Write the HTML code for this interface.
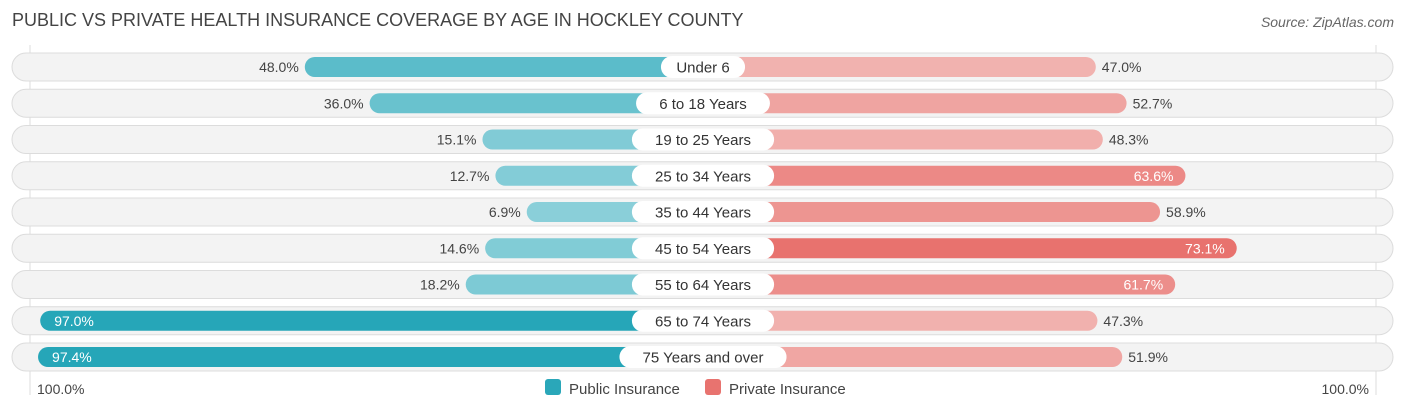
<!DOCTYPE html>
<html><head><meta charset="utf-8"><style>
body{margin:0;background:#fff;font-family:"Liberation Sans",sans-serif;}
#wrap{position:relative;width:1406px;height:413px;overflow:hidden;}
.t{position:absolute;white-space:nowrap;}
</style></head><body>
<div id="wrap">
<div class="t" style="left:12px;top:10px;font-size:18px;color:#444;">PUBLIC VS PRIVATE HEALTH INSURANCE COVERAGE BY AGE IN HOCKLEY COUNTY</div>
<div class="t" style="right:12px;top:14px;font-size:14px;color:#666;font-style:italic;">Source: ZipAtlas.com</div>
<svg id="svg" width="1406" height="413" style="position:absolute;left:0;top:0;"></svg>
</div>
<script>
const categories=["Under 6","6 to 18 Years","19 to 25 Years","25 to 34 Years","35 to 44 Years","45 to 54 Years","55 to 64 Years","65 to 74 Years","75 Years and over"];
const publicVals=[48.0,36.0,15.1,12.7,6.9,14.6,18.2,97.0,97.4];
const privateVals=[47.0,52.7,48.3,63.6,58.9,73.1,61.7,47.3,51.9];
const NS="http://www.w3.org/2000/svg";
const svg=document.getElementById('svg');
const cx=703, scale=5.4, off=139, y0=67, dy=36.25;
function xw(v){return off+scale*v;}
function mk(tag,attrs,parent){const e=document.createElementNS(NS,tag);for(const k in attrs)e.setAttribute(k,attrs[k]);(parent||svg).appendChild(e);return e;}
function mix(a,b,t){return 'rgb('+a.map((c,i)=>Math.round(c+(b[i]-c)*t)).join(',')+')';}
// gridlines
const g1=mk('line',{x1:30,x2:30,y1:45,y2:395,stroke:'#ddd'});


const g2=mk('line',{x1:1376,x2:1376,y1:45,y2:395,stroke:'#ddd'});


categories.forEach((c,i)=>{
  const y=y0+i*dy;
  const bg=mk('rect',{x:12,y:y-14,width:1381,height:28,rx:14,fill:'#f3f3f3',stroke:'#dcdcdc'});
  
  
  const pv=publicVals[i], qv=privateVals[i];
  const pw=xw(pv);
  const pc=mix([140,208,218],[38,166,184],Math.min(1,Math.max(0,(pv-5)/90)));
  const pb=mk('rect',{x:cx-pw,y:y-10,width:pw,height:20,rx:10,fill:pc});
  
  
  const qw=xw(qv);
  const qc=mix([242,183,180],[232,112,108],Math.min(1,Math.max(0,(qv-45)/29)));
  const qb=mk('rect',{x:cx,y:y-10,width:qw,height:20,rx:10,fill:qc});
  
  
  // labels
  const pin=pv>80;
  const pl=mk('text',{x:pin?cx-pw+14:cx-pw-6,y:y+5,'font-size':14,fill:pin?'#fff':'#444','text-anchor':pin?'start':'end','font-family':'Liberation Sans, sans-serif'});
  pl.textContent=pv.toFixed(1)+'%';
  
  
  const qin=qv>60;
  const ql=mk('text',{x:qin?cx+qw-12:cx+qw+6,y:y+5,'font-size':14,fill:qin?'#fff':'#444','text-anchor':qin?'end':'start','font-family':'Liberation Sans, sans-serif'});
  ql.textContent=qv.toFixed(1)+'%';
  
  
  const tw=c.length*8.3+26;
  const cb=mk('rect',{x:cx-tw/2,y:y-11,width:tw,height:22,rx:11,fill:'#fff'});
  
  
  const ct=mk('text',{x:cx,y:y+5.5,'font-size':15,fill:'#333','text-anchor':'middle','font-family':'Liberation Sans, sans-serif'});
  ct.textContent=c;
  
  
});
const al=mk('text',{x:37,y:394,'font-size':14,fill:'#444','font-family':'Liberation Sans, sans-serif'});
al.textContent='100.0%';


const ar=mk('text',{x:1369,y:394,'font-size':14,fill:'#444','text-anchor':'end','font-family':'Liberation Sans, sans-serif'});
ar.textContent='100.0%';


const l1=mk('rect',{x:545,y:379,width:16,height:16,rx:3,fill:'#2aa7b9'});


const t1=mk('text',{x:569,y:394,'font-size':15,fill:'#444','font-family':'Liberation Sans, sans-serif'});
t1.textContent='Public Insurance';


const l2=mk('rect',{x:705,y:379,width:16,height:16,rx:3,fill:'#e8736f'});


const t2=mk('text',{x:729,y:394,'font-size':15,fill:'#444','font-family':'Liberation Sans, sans-serif'});
t2.textContent='Private Insurance';


</script>
</body></html>
